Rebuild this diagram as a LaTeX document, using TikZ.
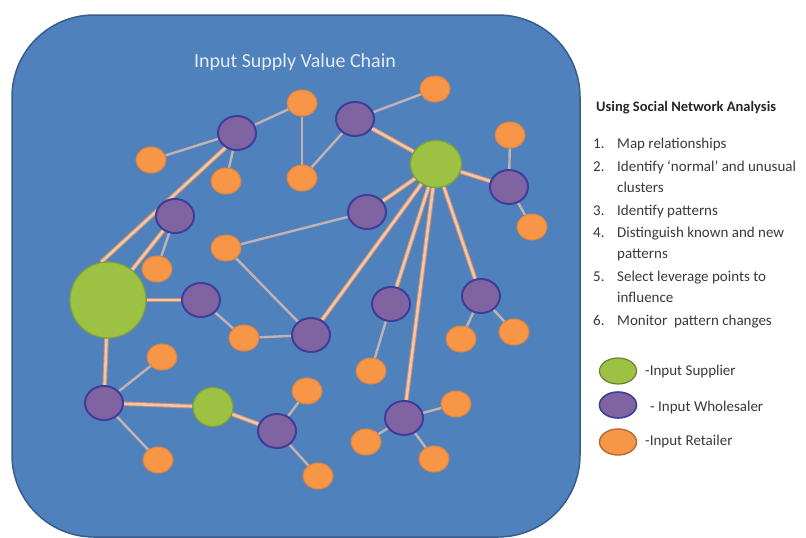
\documentclass[tikz,border=0pt]{standalone}
\usepackage{fontspec}
\setmainfont{Carlito}
\usetikzlibrary{shapes.geometric}
\pgfdeclarelayer{background}
\pgfsetlayers{background,main}
\definecolor{panelblue}{HTML}{4F81BD}
\definecolor{paneledge}{HTML}{385D8A}
\definecolor{supfill}{HTML}{9DC243}
\definecolor{supedge}{HTML}{7FA33A}
\definecolor{whlfill}{HTML}{8064A2}
\definecolor{whledge}{HTML}{3F3D99}
\definecolor{retfill}{HTML}{F79646}
\definecolor{retedge}{HTML}{E3843E}
\definecolor{thinlink}{HTML}{C2B2B2}
\definecolor{thicklinkout}{HTML}{C98E6A}
\definecolor{thicklinkin}{HTML}{EFC6AE}
\definecolor{listtext}{HTML}{3A3A3A}
\tikzset{
  retailer/.style={ellipse, fill=retfill, draw=retedge, line width=1pt,
    minimum width=30pt, minimum height=26pt, inner sep=0pt},
  wholesaler/.style={ellipse, fill=whlfill, draw=whledge, line width=2pt,
    minimum width=38pt, minimum height=34pt, inner sep=0pt},
  supplier/.style={ellipse, fill=supfill, draw=supedge, line width=1.2pt, inner sep=0pt},
  thinlinkstyle/.style={draw=thinlink, line width=2.4pt},
  thicklinkstyle/.style={draw=thicklinkout, line width=1pt, double=thicklinkin, double distance=2.6pt},
  listitem/.style={anchor=base west, text=listtext, font=\fontsize{15}{18}\selectfont, inner sep=0pt},
  legendmark/.style={minimum width=37pt, minimum height=26pt},
}
\begin{document}
\begin{tikzpicture}[x=1pt,y=-1pt]
\useasboundingbox (0,0) rectangle (806,538);

% ---- suppliers
\node[supplier, minimum width=76pt, minimum height=76pt] (g1) at (108,300) {};
\node[supplier, minimum width=51pt, minimum height=47pt] (g2) at (436,164) {};
\node[supplier, minimum width=40pt, minimum height=39pt] (g3) at (213,407) {};

% ---- wholesalers
\node[wholesaler] (p1) at (237,133) {};
\node[wholesaler] (p2) at (355,119) {};
\node[wholesaler] (p3) at (509,187) {};
\node[wholesaler] (p4) at (367,212) {};
\node[wholesaler] (p5) at (175,216) {};
\node[wholesaler] (p6) at (201,300) {};
\node[wholesaler] (p7) at (311,335) {};
\node[wholesaler] (p8) at (391,304) {};
\node[wholesaler] (p9) at (481,296) {};
\node[wholesaler] (p10) at (104,403) {};
\node[wholesaler] (p11) at (277,431) {};
\node[wholesaler] (p12) at (404,418) {};

% ---- retailers
\node[retailer] (o1) at (302,103) {};
\node[retailer] (o2) at (435,89) {};
\node[retailer] (o3) at (151,160) {};
\node[retailer] (o4) at (226,181) {};
\node[retailer] (o5) at (302,178) {};
\node[retailer] (o6) at (510,135) {};
\node[retailer] (o7) at (532,227) {};
\node[retailer] (o8) at (226,248) {};
\node[retailer] (o9) at (157,269) {};
\node[retailer] (o10) at (244,338) {};
\node[retailer] (o11) at (461,339) {};
\node[retailer] (o12) at (514,332) {};
\node[retailer] (o13) at (371,371) {};
\node[retailer] (o14) at (162,357) {};
\node[retailer] (o15) at (307,391) {};
\node[retailer] (o16) at (158,460) {};
\node[retailer] (o17) at (318,476) {};
\node[retailer] (o18) at (456,404) {};
\node[retailer] (o19) at (366,442) {};
\node[retailer] (o20) at (434,459) {};

\begin{pgfonlayer}{background}
  \fill[white] (0,0) rectangle (806,538);
  % rounded blue panel
  \draw[fill=panelblue, draw=paneledge, line width=1.5pt, rounded corners=82pt]
    (12,15) rectangle (580,537);
  % thin links
  \foreach \a/\b in {o3/p1, p1/o1, p1/o4, o1/o5, o5/p2, p2/o2, o6/p3, p3/o7,
      p5/o9, o8/p4, o8/p7, p6/o10, o10/p7, p8/o13, p9/o11, p9/o12,
      p10/o14, p10/o16, p11/o15, p11/o17, p12/o18, p12/o19, p12/o20}
    \draw[thinlinkstyle] (\a) -- (\b);
  % strong links
  \draw[thicklinkstyle] (g1.100) -- (p1.232);
  \foreach \a/\b in {g1/p5, g1/p6, g1/p10, p10/g3, g3/p11,
      p2/g2, g2/p3, g2/p4, g2/p7, g2/p8, g2/p12, g2/p9}
    \draw[thicklinkstyle] (\a) -- (\b);
\end{pgfonlayer}

\node[text=white!85!panelblue, font=\fontsize{20}{23}\selectfont] (title) at (295,62) {Input Supply Value Chain};

% ---- side panel
\node[anchor=base west, inner sep=0pt, font=\bfseries\fontsize{14.5}{17}\selectfont, text=black!85] (head) at (596,111) {Using Social Network Analysis};
\foreach \n/\yy/\txt in {n1/148/1., n2/171/2., n3/215/3., n4/237/4., n5/281/5., n6/325/6.}
  \node[listitem] (\n) at (593,\yy) {\txt};
\node[listitem] (t1) at (617,148) {Map relationships};
\node[listitem] (t2) at (617,171) {Identify ‘normal’ and unusual};
\node[listitem] (t2b) at (617,192) {clusters};
\node[listitem] (t3) at (617,215) {Identify patterns};
\node[listitem] (t4) at (617,237) {Distinguish known and new};
\node[listitem] (t4b) at (617,258) {patterns};
\node[listitem] (t5) at (617,281) {Select leverage points to};
\node[listitem] (t5b) at (617,302) {influence};
\node[listitem] (t6) at (617,325) {Monitor \ pattern changes};

% ---- legend
\node[supplier, legendmark, draw=supedge!80!black] (ls) at (618,371) {};
\node[wholesaler, legendmark, line width=1.6pt] (lw) at (618,405) {};
\node[retailer, legendmark, draw=retedge!80!black, line width=1.4pt] (lr) at (618,442) {};
\node[listitem, anchor=west] (lst) at (645,371) {-Input Supplier};
\node[listitem, anchor=west] (lwt) at (650,407) {- Input Wholesaler};
\node[listitem, anchor=west] (lrt) at (645,441) {-Input Retailer};
\end{tikzpicture}
\end{document}
